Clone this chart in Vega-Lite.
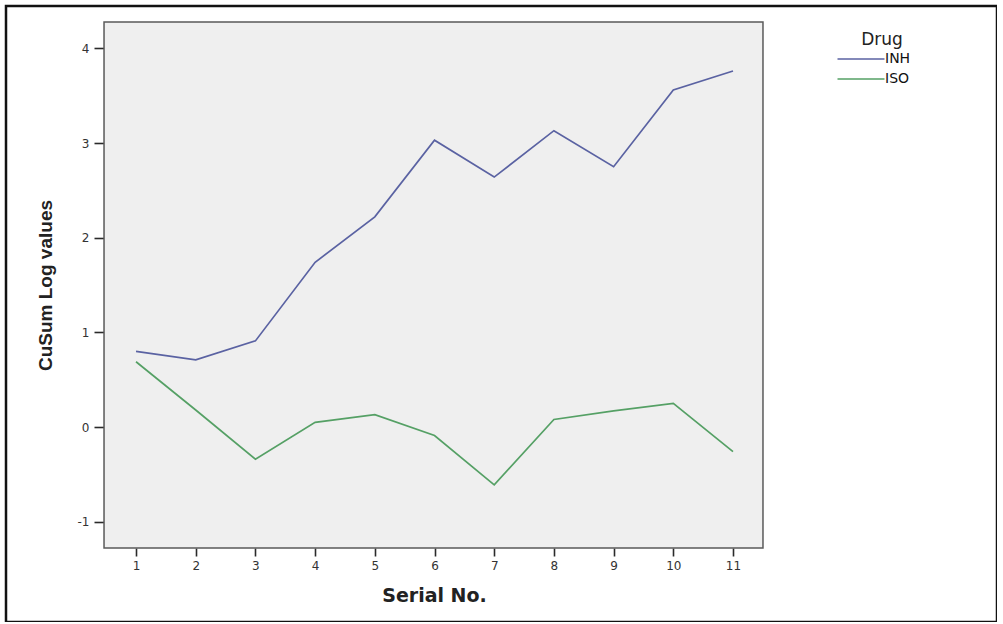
{
  "$schema": "https://vega.github.io/schema/vega-lite/v6.json",
  "width": 991,
  "height": 616,
  "autosize": {"type": "none"},
  "padding": {"left": 6, "top": 6, "right": 0, "bottom": 0},
  "background": "white",
  "config": {
    "view": {"fill": "white", "stroke": "#111111", "strokeWidth": 2.5},
    "font": "DejaVu Sans"
  },
  "datasets": {
    "cusum": [
      {"Serial": 1, "Drug": "INH", "CuSum": 0.80},
      {"Serial": 2, "Drug": "INH", "CuSum": 0.71},
      {"Serial": 3, "Drug": "INH", "CuSum": 0.91},
      {"Serial": 4, "Drug": "INH", "CuSum": 1.74},
      {"Serial": 5, "Drug": "INH", "CuSum": 2.22},
      {"Serial": 6, "Drug": "INH", "CuSum": 3.03},
      {"Serial": 7, "Drug": "INH", "CuSum": 2.64},
      {"Serial": 8, "Drug": "INH", "CuSum": 3.13},
      {"Serial": 9, "Drug": "INH", "CuSum": 2.75},
      {"Serial": 10, "Drug": "INH", "CuSum": 3.56},
      {"Serial": 11, "Drug": "INH", "CuSum": 3.76},
      {"Serial": 1, "Drug": "ISO", "CuSum": 0.69},
      {"Serial": 2, "Drug": "ISO", "CuSum": 0.18},
      {"Serial": 3, "Drug": "ISO", "CuSum": -0.34},
      {"Serial": 4, "Drug": "ISO", "CuSum": 0.05},
      {"Serial": 5, "Drug": "ISO", "CuSum": 0.13},
      {"Serial": 6, "Drug": "ISO", "CuSum": -0.09},
      {"Serial": 7, "Drug": "ISO", "CuSum": -0.61},
      {"Serial": 8, "Drug": "ISO", "CuSum": 0.08},
      {"Serial": 9, "Drug": "ISO", "CuSum": 0.17},
      {"Serial": 10, "Drug": "ISO", "CuSum": 0.25},
      {"Serial": 11, "Drug": "ISO", "CuSum": -0.26}
    ],
    "panel": [{"region": "plot"}]
  },
  "encoding": {
    "x": {
      "type": "quantitative",
      "scale": {"domain": [-1.178, 15.422], "nice": false, "zero": false},
      "axis": {
        "title": "Serial No.",
        "values": [1, 2, 3, 4, 5, 6, 7, 8, 9, 10, 11],
        "offset": -74,
        "domain": false,
        "grid": false,
        "ticks": true,
        "tickSize": 8,
        "tickWidth": 1.6,
        "tickColor": "#2a2a2a",
        "labelFont": "DejaVu Sans",
        "labelFontSize": 12,
        "labelColor": "#333333",
        "labelPadding": 4,
        "titleFont": "DejaVu Sans",
        "titleFontSize": 19,
        "titleFontWeight": "bold",
        "titleColor": "#222222",
        "titleX": 428,
        "titleY": 53,
        "titleAlign": "center",
        "titleBaseline": "alphabetic"
      }
    },
    "y": {
      "type": "quantitative",
      "scale": {"domain": [-2.059, 4.447], "nice": false, "zero": false},
      "axis": {
        "title": "CuSum Log values",
        "values": [-1, 0, 1, 2, 3, 4],
        "labelExpr": "datum.value + ''",
        "offset": -98,
        "domain": false,
        "grid": false,
        "tickSize": 10,
        "tickWidth": 1.6,
        "tickColor": "#2a2a2a",
        "labelFont": "DejaVu Sans",
        "labelFontSize": 12,
        "labelColor": "#333333",
        "labelPadding": 5,
        "titleFont": "Liberation Sans",
        "titleFontSize": 19,
        "titleFontWeight": "bold",
        "titleColor": "#222222",
        "titleAngle": 270,
        "titleX": -53,
        "titleY": 279,
        "titleAlign": "center",
        "titleBaseline": "alphabetic"
      }
    }
  },
  "layer": [
    {
      "data": {"name": "panel"},
      "mark": {"type": "rect", "fill": "#efefef", "stroke": "#5a5a5a", "strokeWidth": 1.5},
      "encoding": {
        "x": {"datum": 0.464, "type": "quantitative"},
        "x2": {"datum": 11.502},
        "y": {"datum": 4.278, "type": "quantitative"},
        "y2": {"datum": -1.278}
      }
    },
    {
      "data": {"name": "cusum"},
      "mark": {"type": "line", "strokeWidth": 1.7},
      "encoding": {
        "x": {"field": "Serial", "type": "quantitative"},
        "y": {"field": "CuSum", "type": "quantitative"},
        "color": {
          "field": "Drug",
          "type": "nominal",
          "scale": {"domain": ["INH", "ISO"], "range": ["#5a62a2", "#55a065"]},
          "legend": {
            "orient": "none",
            "legendX": 848,
            "legendY": 26,
            "title": "Drug",
            "titleFont": "DejaVu Sans",
            "titleFontSize": 17,
            "titleFontWeight": "normal",
            "titleColor": "#222222",
            "titleAnchor": "middle",
            "titlePadding": 3,
            "labelFont": "DejaVu Sans",
            "labelFontSize": 14,
            "labelColor": "#111111",
            "labelOffset": 17,
            "symbolType": "M-4,0H4",
            "symbolSize": 138,
            "symbolStrokeWidth": 1.5,
            "rowPadding": 6
          }
        }
      }
    }
  ]
}
